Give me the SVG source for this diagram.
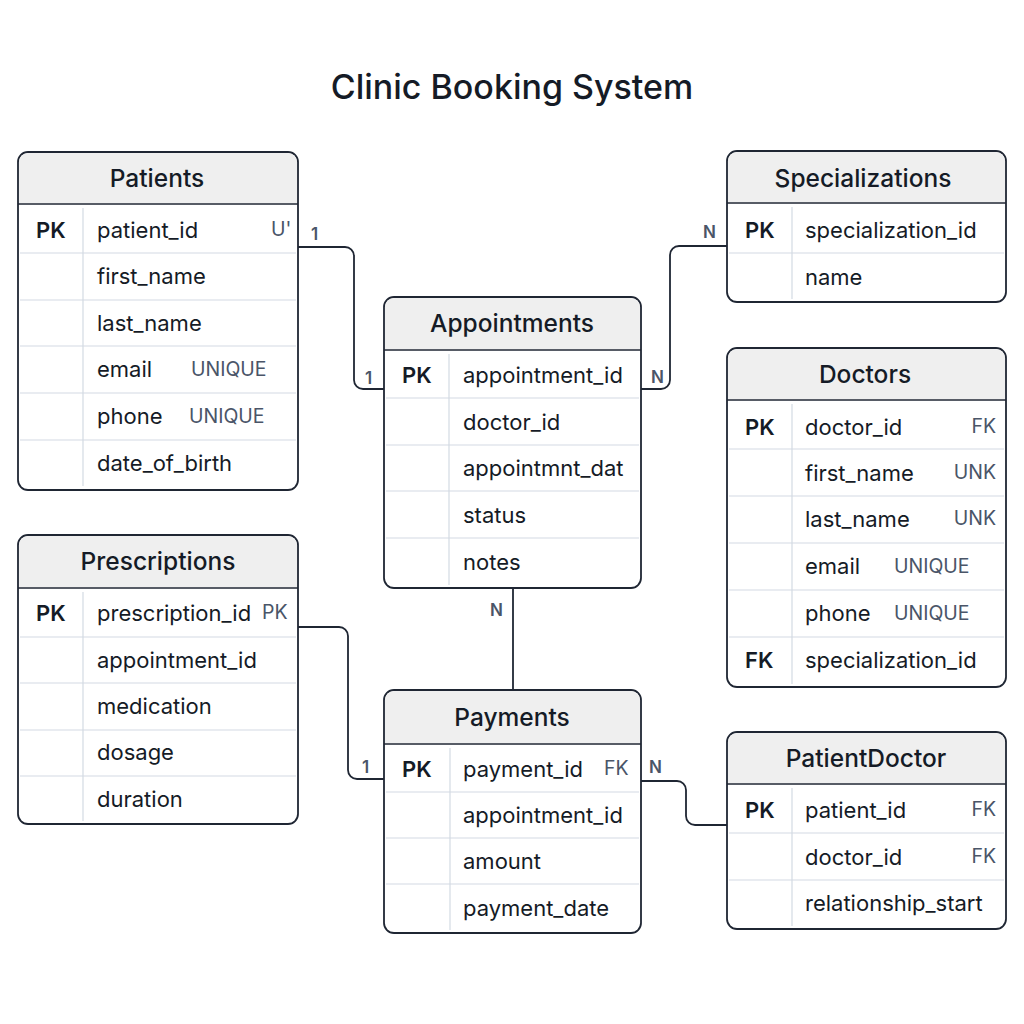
<svg xmlns="http://www.w3.org/2000/svg" width="1024" height="1024" viewBox="0 0 1024 1024">
<style>
.box{fill:#ffffff;stroke:#1f2633;stroke-width:1.8}
.hdr{fill:#efefef}
.hline{stroke:#1f2633;stroke-width:1.6}
.row{stroke:#d3dae3;stroke-width:1.2}
.col{stroke:#d3dae3;stroke-width:1.2}
.title{font-family:Inter,"Liberation Sans",sans-serif;font-size:24.5px;font-weight:500;fill:#151b26;text-anchor:middle;dominant-baseline:central}
.f{font-family:Inter,"Liberation Sans",sans-serif;font-size:22px;fill:#151b26;dominant-baseline:central}
.k{font-family:Inter,"Liberation Sans",sans-serif;font-size:22px;font-weight:600;fill:#151b26;dominant-baseline:central}
.c{font-family:Inter,"Liberation Sans",sans-serif;font-size:19.5px;fill:#4a5568;dominant-baseline:central}
.cr{font-family:Inter,"Liberation Sans",sans-serif;font-size:19.5px;fill:#4a5568;dominant-baseline:central;text-anchor:end}
.lbl{font-family:Inter,"Liberation Sans",sans-serif;font-size:17px;font-weight:600;fill:#4a5568;dominant-baseline:central}
.conn{fill:none;stroke:#1f2633;stroke-width:1.8}
</style>
<rect width="1024" height="1024" fill="#ffffff"/>
<text x="512" y="86" font-family="Inter,'Liberation Sans',sans-serif" font-size="34" font-weight="500" fill="#151b26" text-anchor="middle" dominant-baseline="central">Clinic Booking System</text>

<g id="connectors">
<path class="conn" d="M298,247 H345 a9,9 0 0 1 9,9 V380 a9,9 0 0 0 9,9 H384"/>
<path class="conn" d="M641,389 H661 a9,9 0 0 0 9,-9 V255 a9,9 0 0 1 9,-9 H727"/>
<path class="conn" d="M513,588 V690"/>
<path class="conn" d="M298,627 H339 a9,9 0 0 1 9,9 V770 a9,9 0 0 0 9,9 H384"/>
<path class="conn" d="M641,781 H677 a9,9 0 0 1 9,9 V816 a9,9 0 0 0 9,9 H727"/>
<text class="lbl" x="311" y="234">1</text>
<text class="lbl" x="365" y="378">1</text>
<text class="lbl" x="651" y="377">N</text>
<text class="lbl" x="703" y="232">N</text>
<text class="lbl" x="490" y="610">N</text>
<text class="lbl" x="362" y="767">1</text>
<text class="lbl" x="649" y="767">N</text>
</g>

<g id="patients">
<rect class="box" x="18" y="152" width="280" height="338" rx="10"/>
<path class="hdr" d="M19,203 V162 a9,9 0 0 1 9,-9 H288 a9,9 0 0 1 9,9 V203 Z"/>
<line class="hline" x1="18" y1="204" x2="298" y2="204"/>
<line class="row" x1="20" y1="253" x2="296" y2="253"/>
<line class="row" x1="20" y1="300" x2="296" y2="300"/>
<line class="row" x1="20" y1="346" x2="296" y2="346"/>
<line class="row" x1="20" y1="393" x2="296" y2="393"/>
<line class="row" x1="20" y1="440" x2="296" y2="440"/>
<line class="col" x1="83" y1="208" x2="83" y2="486"/>
<text class="title" x="157" y="178">Patients</text>
<text class="k" x="36" y="230">PK</text>
<text class="f" x="97" y="230">patient_id</text>
<text class="c" x="271" y="229">U'</text>
<text class="f" x="97" y="276">first_name</text>
<text class="f" x="97" y="323">last_name</text>
<text class="f" x="97" y="369">email</text>
<text class="c" x="191" y="369">UNIQUE</text>
<text class="f" x="97" y="416">phone</text>
<text class="c" x="189" y="416">UNIQUE</text>
<text class="f" x="97" y="463">date_of_birth</text>
</g>

<g id="appointments">
<rect class="box" x="384" y="297" width="257" height="291" rx="10"/>
<path class="hdr" d="M385,349 V307 a9,9 0 0 1 9,-9 H631 a9,9 0 0 1 9,9 V349 Z"/>
<line class="hline" x1="384" y1="350" x2="641" y2="350"/>
<line class="row" x1="386" y1="398" x2="639" y2="398"/>
<line class="row" x1="386" y1="445" x2="639" y2="445"/>
<line class="row" x1="386" y1="491" x2="639" y2="491"/>
<line class="row" x1="386" y1="538" x2="639" y2="538"/>
<line class="col" x1="449" y1="354" x2="449" y2="585"/>
<text class="title" x="512" y="323">Appointments</text>
<text class="k" x="402" y="375">PK</text>
<text class="f" x="463" y="375">appointment_id</text>
<text class="f" x="463" y="422">doctor_id</text>
<text class="f" x="463" y="468">appointmnt_dat</text>
<text class="f" x="463" y="515">status</text>
<text class="f" x="463" y="562">notes</text>
</g>

<g id="specializations">
<rect class="box" x="727" y="151" width="279" height="151" rx="10"/>
<path class="hdr" d="M728,202 V161 a9,9 0 0 1 9,-9 H996 a9,9 0 0 1 9,9 V202 Z"/>
<line class="hline" x1="727" y1="203" x2="1006" y2="203"/>
<line class="row" x1="729" y1="253" x2="1004" y2="253"/>
<line class="col" x1="792" y1="207" x2="792" y2="299"/>
<text class="title" x="863" y="178">Specializations</text>
<text class="k" x="745" y="230">PK</text>
<text class="f" x="805" y="230">specialization_id</text>
<text class="f" x="805" y="277">name</text>
</g>

<g id="doctors">
<rect class="box" x="727" y="348" width="279" height="339" rx="10"/>
<path class="hdr" d="M728,399 V358 a9,9 0 0 1 9,-9 H996 a9,9 0 0 1 9,9 V399 Z"/>
<line class="hline" x1="727" y1="400" x2="1006" y2="400"/>
<line class="row" x1="729" y1="449" x2="1004" y2="449"/>
<line class="row" x1="729" y1="496" x2="1004" y2="496"/>
<line class="row" x1="729" y1="543" x2="1004" y2="543"/>
<line class="row" x1="729" y1="590" x2="1004" y2="590"/>
<line class="row" x1="729" y1="637" x2="1004" y2="637"/>
<line class="col" x1="792" y1="404" x2="792" y2="684"/>
<text class="title" x="865" y="374">Doctors</text>
<text class="k" x="745" y="427">PK</text>
<text class="f" x="805" y="427">doctor_id</text>
<text class="cr" x="996" y="426">FK</text>
<text class="f" x="805" y="473">first_name</text>
<text class="cr" x="996" y="472">UNK</text>
<text class="f" x="805" y="519">last_name</text>
<text class="cr" x="996" y="518">UNK</text>
<text class="f" x="805" y="566">email</text>
<text class="c" x="894" y="566">UNIQUE</text>
<text class="f" x="805" y="613">phone</text>
<text class="c" x="894" y="613">UNIQUE</text>
<text class="k" x="745" y="660">FK</text>
<text class="f" x="805" y="660">specialization_id</text>
</g>

<g id="prescriptions">
<rect class="box" x="18" y="535" width="280" height="289" rx="10"/>
<path class="hdr" d="M19,587 V545 a9,9 0 0 1 9,-9 H288 a9,9 0 0 1 9,9 V587 Z"/>
<line class="hline" x1="18" y1="588" x2="298" y2="588"/>
<line class="row" x1="20" y1="637" x2="296" y2="637"/>
<line class="row" x1="20" y1="683" x2="296" y2="683"/>
<line class="row" x1="20" y1="730" x2="296" y2="730"/>
<line class="row" x1="20" y1="776" x2="296" y2="776"/>
<line class="col" x1="83" y1="592" x2="83" y2="821"/>
<text class="title" x="158" y="561">Prescriptions</text>
<text class="k" x="36" y="613">PK</text>
<text class="f" x="97" y="613">prescription_id</text>
<text class="c" x="262" y="612">PK</text>
<text class="f" x="97" y="660">appointment_id</text>
<text class="f" x="97" y="706">medication</text>
<text class="f" x="97" y="752">dosage</text>
<text class="f" x="97" y="799">duration</text>
</g>

<g id="payments">
<rect class="box" x="384" y="690" width="257" height="243" rx="10"/>
<path class="hdr" d="M385,743 V700 a9,9 0 0 1 9,-9 H631 a9,9 0 0 1 9,9 V743 Z"/>
<line class="hline" x1="384" y1="744" x2="641" y2="744"/>
<line class="row" x1="386" y1="792" x2="639" y2="792"/>
<line class="row" x1="386" y1="838" x2="639" y2="838"/>
<line class="row" x1="386" y1="884" x2="639" y2="884"/>
<line class="col" x1="450" y1="748" x2="450" y2="930"/>
<text class="title" x="512" y="717">Payments</text>
<text class="k" x="402" y="769">PK</text>
<text class="f" x="463" y="769">payment_id</text>
<text class="c" x="604" y="768">FK</text>
<text class="f" x="463" y="815">appointment_id</text>
<text class="f" x="463" y="861">amount</text>
<text class="f" x="463" y="908">payment_date</text>
</g>

<g id="patientdoctor">
<rect class="box" x="727" y="732" width="279" height="197" rx="10"/>
<path class="hdr" d="M728,783 V742 a9,9 0 0 1 9,-9 H996 a9,9 0 0 1 9,9 V783 Z"/>
<line class="hline" x1="727" y1="784" x2="1006" y2="784"/>
<line class="row" x1="729" y1="833" x2="1004" y2="833"/>
<line class="row" x1="729" y1="880" x2="1004" y2="880"/>
<line class="col" x1="792" y1="788" x2="792" y2="926"/>
<text class="title" x="866" y="758">PatientDoctor</text>
<text class="k" x="745" y="810">PK</text>
<text class="f" x="805" y="810">patient_id</text>
<text class="cr" x="996" y="809">FK</text>
<text class="f" x="805" y="857">doctor_id</text>
<text class="cr" x="996" y="856">FK</text>
<text class="f" x="805" y="903">relationship_start</text>
</g>
</svg>
